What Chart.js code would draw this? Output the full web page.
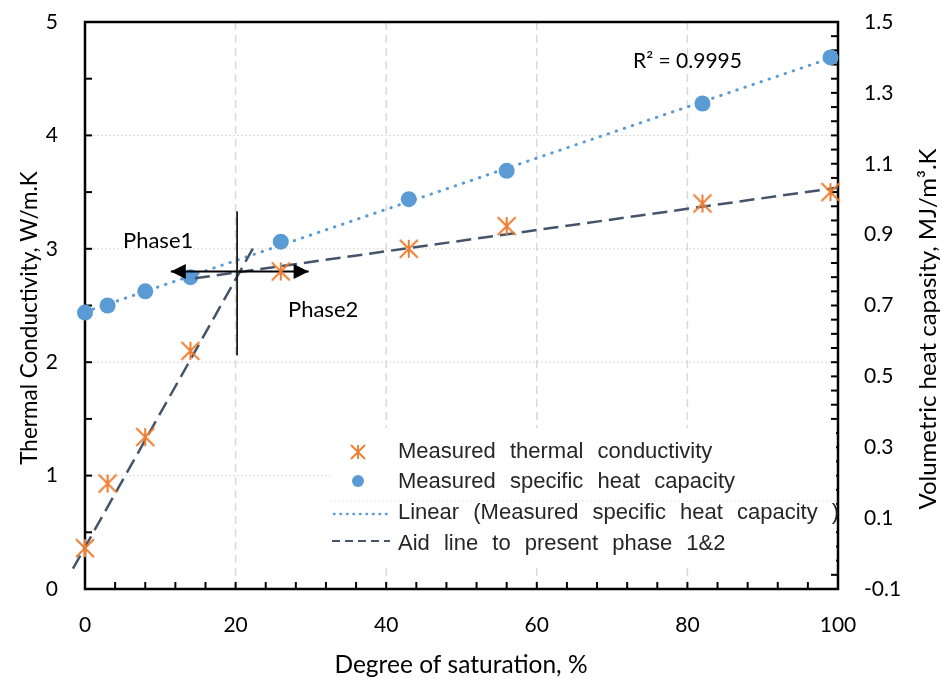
<!DOCTYPE html>
<html>
<head>
<meta charset="utf-8">
<script src="https://cdn.jsdelivr.net/npm/chart.js@4/dist/chart.umd.min.js"></script>
<style>
html,body{margin:0;padding:0;background:#fff;}
#wrap{width:942px;height:679px;position:relative;}
canvas{display:block;}
</style>
</head>
<body>
<div id="wrap"><canvas id="c" width="942" height="679"></canvas></div>
<script>
// ---- data ----
const saturation = [0, 3, 8, 14, 26, 43, 56, 82, 99];
const thermalConductivity = [0.36, 0.93, 1.34, 2.10, 2.80, 3.00, 3.20, 3.40, 3.50];
const heatCapacity = [0.68, 0.70, 0.74, 0.78, 0.88, 1.00, 1.08, 1.27, 1.40];
const trendX = [0, 99];
const trendY = [0.682, 1.398];
const aidPhase1X = [-1.6, 22.7];
const aidPhase1Y = [0.18, 3.05];
const aidPhase2X = [14.6, 100];
const aidPhase2Y = [2.74, 3.54];
const dividerX = [20.2, 20.2];
const dividerY = [2.06, 3.33];
const arrowX = [11.4, 29.7];
const arrowY = [2.80, 2.80];
const xTicks = [0, 20, 40, 60, 80, 100];
const leftTicks = [0, 1, 2, 3, 4, 5];
const rightTicks = [-0.1, 0.1, 0.3, 0.5, 0.7, 0.9, 1.1, 1.3, 1.5];
const xMinorStep = 4, leftMinorStep = 0.5, rightMinorCount = 40;
const legendLabels = ['Measured thermal conductivity', 'Measured specific heat capacity',
  'Linear (Measured specific heat capacity )', 'Aid line to present phase 1&2'];
const xTitle = 'Degree of saturation, %';
const leftTitle = 'Thermal Conductivity, W/m.K';
const rightTitle = 'Volumetric heat capasity, MJ/m\u00B3.K';
const r2Text = 'R\u00B2 = 0.9995';
const phase1Text = 'Phase1', phase2Text = 'Phase2';

// ---- styles ----
const ORANGE = '#ED7D31', BLUE = '#5B9BD5', SLATE = '#44546A';
const FONT = 'Lato';
const AREA = {left: 85, top: 22, right: 838, bottom: 589};

function makeStar(size, lw, color) {
  const c = document.createElement('canvas');
  const pad = 2;
  c.width = c.height = size + pad * 2;
  const g = c.getContext('2d');
  g.strokeStyle = color; g.lineWidth = lw;
  const a = pad, b = pad + size, m = pad + size / 2;
  g.beginPath();
  g.moveTo(a, a); g.lineTo(b, b);
  g.moveTo(b, a); g.lineTo(a, b);
  g.moveTo(m, a); g.lineTo(m, b);
  g.stroke();
  return c;
}
const starImg = makeStar(18, 2, ORANGE);
const starLegend = makeStar(14, 1.8, ORANGE);

const xy = (xs, ys) => xs.map((x, i) => ({x: x, y: ys[i]}));

const decor = {
  id: 'decor',
  beforeDatasetsDraw(chart) {
    const {ctx, chartArea: a, scales: {x, y, y2}} = chart;
    ctx.save();
    // vertical dashed grid
    ctx.strokeStyle = '#d9d9d9'; ctx.lineWidth = 1.5; ctx.setLineDash([8, 5]);
    xTicks.forEach(v => {
      if (v <= x.min || v >= x.max) return;
      const px = x.getPixelForValue(v);
      ctx.beginPath(); ctx.moveTo(px, a.top); ctx.lineTo(px, a.bottom); ctx.stroke();
    });
    // horizontal dotted grid
    ctx.lineWidth = 1; ctx.setLineDash([2, 2]);
    leftTicks.forEach(v => {
      if (v <= y.min || v >= y.max) return;
      const py = y.getPixelForValue(v);
      ctx.beginPath(); ctx.moveTo(a.left, py); ctx.lineTo(a.right, py); ctx.stroke();
    });
    ctx.setLineDash([]);
    // inward tick marks
    ctx.strokeStyle = '#000'; ctx.lineWidth = 2;
    const TL = 7;
    for (let v = y.min; v <= y.max + 1e-9; v += leftMinorStep) {
      const py = y.getPixelForValue(v);
      ctx.beginPath(); ctx.moveTo(a.left, py); ctx.lineTo(a.left + TL, py); ctx.stroke();
    }
    for (let v = x.min; v <= x.max + 1e-9; v += xMinorStep) {
      const px = x.getPixelForValue(v);
      ctx.beginPath(); ctx.moveTo(px, a.bottom); ctx.lineTo(px, a.bottom - TL); ctx.stroke();
    }
    for (let i = 0; i <= rightMinorCount; i++) {
      const v = y2.min + (y2.max - y2.min) * i / rightMinorCount;
      const py = y2.getPixelForValue(v);
      ctx.beginPath(); ctx.moveTo(a.right, py); ctx.lineTo(a.right - TL, py); ctx.stroke();
    }
    // box
    ctx.lineWidth = 2.5;
    ctx.strokeRect(a.left, a.top, a.right - a.left, a.bottom - a.top);
    ctx.restore();
  },
  afterDatasetsDraw(chart) {
    const {ctx, scales: {x, y}} = chart;
    ctx.save();
    // arrow heads
    ctx.fillStyle = '#000';
    const ay = y.getPixelForValue(arrowY[0]);
    const lx = x.getPixelForValue(arrowX[0]);
    const rx = x.getPixelForValue(arrowX[1]);
    ctx.beginPath(); ctx.moveTo(lx, ay); ctx.lineTo(lx + 15, ay - 7.5); ctx.lineTo(lx + 15, ay + 7.5); ctx.closePath(); ctx.fill();
    ctx.beginPath(); ctx.moveTo(rx, ay); ctx.lineTo(rx - 15, ay - 7.5); ctx.lineTo(rx - 15, ay + 7.5); ctx.closePath(); ctx.fill();

    // annotations
    ctx.fillStyle = '#000';
    ctx.textAlign = 'left'; ctx.textBaseline = 'alphabetic';
    ctx.font = '22px ' + FONT;
    ctx.fillText(phase1Text, 123, 248);
    ctx.fillText(phase2Text, 288, 317);
    ctx.font = '21px ' + FONT;
    ctx.fillText(r2Text, 633, 68);

    // legend
    ctx.fillStyle = '#fff';
    ctx.fillRect(330, 428, 506, 137);
    ctx.strokeStyle = '#e0e0e0'; ctx.lineWidth = 1; ctx.setLineDash([2, 2]);
    ctx.beginPath(); ctx.moveTo(330, 501); ctx.lineTo(836, 501); ctx.stroke();
    ctx.setLineDash([]);
    ctx.drawImage(starLegend, 358 - starLegend.width / 2, 452 - starLegend.height / 2);
    ctx.fillStyle = BLUE;
    ctx.beginPath(); ctx.arc(358, 481, 6, 0, Math.PI * 2); ctx.fill();
    ctx.strokeStyle = BLUE; ctx.lineWidth = 2.5; ctx.lineCap = 'round'; ctx.setLineDash([0.5, 6]);
    ctx.beginPath(); ctx.moveTo(334, 514); ctx.lineTo(390, 514); ctx.stroke();
    ctx.lineCap = 'butt';
    ctx.strokeStyle = SLATE; ctx.lineWidth = 2; ctx.setLineDash([8, 5]);
    ctx.beginPath(); ctx.moveTo(332, 541); ctx.lineTo(390, 541); ctx.stroke();
    ctx.setLineDash([]);
    ctx.fillStyle = '#262626';
    ctx.font = '22px "Liberation Sans", Arial, sans-serif';
    try { ctx.wordSpacing = '8px'; } catch (e) {}
    const baselines = [458, 488, 519, 550];
    legendLabels.forEach((t, i) => ctx.fillText(t, 398, baselines[i]));
    try { ctx.wordSpacing = '0px'; } catch (e) {}

    // axis titles
    ctx.fillStyle = '#000';
    ctx.textAlign = 'center';
    ctx.font = '24.5px ' + FONT;
    ctx.fillText(xTitle, 461, 673);
    ctx.font = '22.5px ' + FONT;
    ctx.save(); ctx.translate(37, 318); ctx.rotate(-Math.PI / 2); ctx.fillText(leftTitle, 0, 0); ctx.restore();
    ctx.font = '24px ' + FONT;
    ctx.save(); ctx.translate(936, 329); ctx.rotate(-Math.PI / 2); ctx.fillText(rightTitle, 0, 0); ctx.restore();
    ctx.restore();
  }
};

const tickFont = {family: FONT, size: 21};
const chart = new Chart(document.getElementById('c'), {
  type: 'scatter',
  data: {
    datasets: [
      {label: legendLabels[0], data: xy(saturation, thermalConductivity), yAxisID: 'y',
       pointStyle: starImg, pointRadius: 9, pointHoverRadius: 9, showLine: false, clip: false, order: 0},
      {label: 'divider', data: xy(dividerX, dividerY), yAxisID: 'y', showLine: true,
       borderColor: '#1a1a1a', borderWidth: 1.8, pointRadius: 0, pointHoverRadius: 0, clip: false, order: 1},
      {label: 'arrow', data: xy(arrowX, arrowY), yAxisID: 'y', showLine: true,
       borderColor: '#000', borderWidth: 2, pointRadius: 0, pointHoverRadius: 0, clip: false, order: 1},
      {label: legendLabels[3], data: xy(aidPhase1X, aidPhase1Y), yAxisID: 'y', showLine: true,
       borderColor: SLATE, borderWidth: 2.5, borderDash: [15, 7], pointRadius: 0, pointHoverRadius: 0, clip: false, order: 2},
      {label: 'aid2', data: xy(aidPhase2X, aidPhase2Y), yAxisID: 'y', showLine: true,
       borderColor: SLATE, borderWidth: 2.5, borderDash: [15, 7], pointRadius: 0, pointHoverRadius: 0, clip: false, order: 2},
      {label: legendLabels[1], data: xy(saturation, heatCapacity), yAxisID: 'y2',
       pointStyle: 'circle', pointRadius: 8, pointHoverRadius: 8, backgroundColor: BLUE, borderWidth: 0,
       showLine: false, clip: false, order: 3},
      {label: legendLabels[2], data: xy(trendX, trendY), yAxisID: 'y2', showLine: true,
       borderColor: BLUE, borderWidth: 3, borderDash: [0.5, 8], borderCapStyle: 'round',
       pointRadius: 0, pointHoverRadius: 0, clip: false, order: 4}
    ]
  },
  options: {
    responsive: false, animation: false, devicePixelRatio: 1,
    layout: {padding: {top: AREA.top, left: 0, right: 0, bottom: 0}},
    plugins: {legend: {display: false}, tooltip: {enabled: false}},
    scales: {
      x: {type: 'linear', position: 'bottom', min: 0, max: 100,
        afterBuildTicks: s => { s.ticks = xTicks.map(v => ({value: v})); },
        afterFit: s => { s.height = 679 - AREA.bottom; s.paddingLeft = 0; s.paddingRight = 0; },
        grid: {display: false, drawTicks: false}, border: {display: false},
        ticks: {font: tickFont, color: '#000', padding: 24, maxRotation: 0, autoSkip: false,
          callback: v => String(v)}},
      y: {type: 'linear', position: 'left', min: 0, max: 5,
        afterBuildTicks: s => { s.ticks = leftTicks.map(v => ({value: v})); },
        afterFit: s => { s.width = AREA.left; s.paddingTop = 0; s.paddingBottom = 0; },
        grid: {display: false, drawTicks: false}, border: {display: false},
        ticks: {font: tickFont, color: '#000', padding: 27, autoSkip: false, callback: v => String(v)}},
      y2: {type: 'linear', position: 'right', min: -0.1, max: 1.5,
        afterBuildTicks: s => { s.ticks = rightTicks.map(v => ({value: v})); },
        afterFit: s => { s.width = 942 - AREA.right; s.paddingTop = 0; s.paddingBottom = 0; },
        grid: {display: false, drawTicks: false}, border: {display: false},
        ticks: {font: tickFont, color: '#000', padding: 26, autoSkip: false, callback: v => Number(v).toFixed(1)}}
    }
  },
  plugins: [decor]
});
// nudge the layout padding so the plot area lands where the reference has it
for (let k = 0; k < 4; k++) {
  const d = AREA.top - chart.chartArea.top;
  if (Math.abs(d) < 0.5) break;
  chart.options.layout.padding.top += d;
  chart.update();
}
</script>
</body>
</html>
